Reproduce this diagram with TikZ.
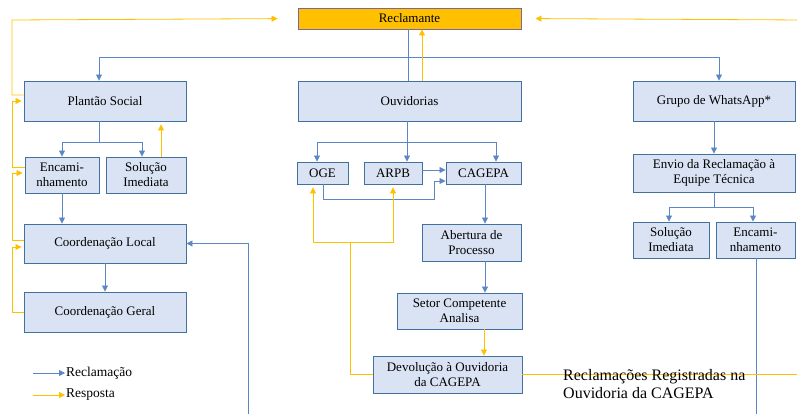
\documentclass[tikz,border=0pt]{standalone}
\usepackage{fontspec}
\setmainfont{Liberation Serif}
\usetikzlibrary{arrows.meta,calc}

\definecolor{boxfill}{HTML}{DAE3F3}
\definecolor{boxline}{HTML}{41719C}
\definecolor{blu}{HTML}{5B87C5}
\definecolor{ylw}{HTML}{FFC000}
\definecolor{recline}{HTML}{8064A2}

\tikzset{
  flowbox/.style={draw=boxline, fill=boxfill, line width=0.9pt, align=center, inner sep=1pt,
    font=\fontsize{13}{15}\selectfont},
  recl/.style={draw=blu, line width=0.8pt},
  resp/.style={draw=ylw, line width=0.8pt},
  tip/.style={-{Triangle[length=6pt,width=6pt]}},
}

\begin{document}
\begin{tikzpicture}[x=1pt,y=1pt,yscale=-1,xscale=1]
\useasboundingbox (0,0) rectangle (797,414);

%Shape: Rectangle [Reclamante]
    \node [flowbox, fill=ylw, draw=recline, minimum width=223, minimum height=21] (rec) at (409.5,18.5) {Reclamante};
%Shape: Rectangle [top row]
    \node [flowbox, minimum width=162, minimum height=40] (ps) at (105,101) {Plantão Social};
    \node [flowbox, minimum width=223, minimum height=40] (ouv) at (409.5,101) {Ouvidorias};
    \node [flowbox, minimum width=162, minimum height=40] (wa) at (714,101) {Grupo de WhatsApp*};
%Shape: Rectangle [left column]
    \node [flowbox, minimum width=74, minimum height=36] (enc1) at (62,175) {Encami-\\nhamento};
    \node [flowbox, minimum width=80, minimum height=36] (sol1) at (146,175) {Solução\\Imediata};
    \node [flowbox, minimum width=162, minimum height=39] (cl) at (105,243.5) {Coordenação Local};
    \node [flowbox, minimum width=162, minimum height=40] (cg) at (105,312) {Coordenação Geral};
%Shape: Rectangle [middle column]
    \node [flowbox, minimum width=51, minimum height=22] (oge) at (322.5,173) {OGE};
    \node [flowbox, minimum width=58, minimum height=22] (arpb) at (393,173) {ARPB};
    \node [flowbox, minimum width=75, minimum height=22] (cag) at (483.5,173) {CAGEPA};
    \node [flowbox, minimum width=99, minimum height=37] (ab) at (471.5,242.5) {Abertura de\\Processo};
    \node [flowbox, minimum width=125, minimum height=36] (setor) at (459.5,311) {Setor Competente\\Analisa};
    \node [flowbox, minimum width=149, minimum height=37] (dev) at (447.5,374.5) {Devolução à Ouvidoria\\da CAGEPA};
%Shape: Rectangle [right column]
    \node [flowbox, minimum width=162, minimum height=38] (envio) at (714,173) {Envio da Reclamação à\\Equipe Técnica};
    \node [flowbox, minimum width=76, minimum height=36] (sol2) at (671,240) {Solução\\Imediata};
    \node [flowbox, minimum width=79, minimum height=36] (enc2) at (755.5,240) {Encami-\\nhamento};

%Coordinates for bends
    \coordinate (topBus) at (408,57);
    \coordinate (psBus) at (99,142);
    \coordinate (ouvBus) at (407,142);
    \coordinate (waBus) at (714,207);
    \coordinate (ogeA) at (323,199);
    \coordinate (ogeB) at (434,181);
    \coordinate (devBus) at (350,242);
    \coordinate (rail) at (12,20);
    \coordinate (lowBend) at (248,422);
    \coordinate (farRight) at (803,20);
%Coordinates for shifted ends
    \coordinate (solUp) at ($(sol1.north)+(15,0)$);
    \coordinate (arpbOut) at ($(arpb.east)+(0,-3)$);
    \coordinate (cagDown) at ($(cag.south)+(1.5,0)$);
    \coordinate (setorDown) at ($(setor.south)+(24.5,0)$);
    \coordinate (clIn) at ($(cl.west)+(0,3.5)$);
    \coordinate (clOut) at ($(cl.west)+(0,-3.5)$);
    \coordinate (encIn) at ($(enc1.west)+(0,-2)$);
    \coordinate (encOut) at ($(enc1.west)+(0,-8)$);
    \coordinate (psOut) at ($(ps.west)+(0,-6)$);

%Straight Lines [Reclamacao]
    \draw [recl] (rec.south -| topBus) -- (ouv.north -| topBus);
    \draw [recl,tip] (topBus) -| ($(ps.north)+(-6,0)$);
    \draw [recl,tip] (topBus) -| ($(wa.north)+(5,0)$);
    \draw [recl] (ps.south -| psBus) -- (psBus);
    \draw [recl,tip] (psBus) -| (enc1.north);
    \draw [recl,tip] (psBus) -| ($(sol1.north)+(-4,0)$);
    \draw [recl,tip] (enc1.south) -- (enc1.south |- cl.north);
    \draw [recl,tip] (cl.south) -- (cg.north);
    \draw [recl] (ouv.south -| ouvBus) -- (ouvBus);
    \draw [recl,tip] (ouvBus) -| ($(oge.north)+(-5.5,0)$);
    \draw [recl,tip] (ouvBus) -- (ouvBus |- arpb.north);
    \draw [recl,tip] (ouvBus) -| ($(cag.north)+(12.5,0)$);
    \draw [recl,tip] (arpbOut) -- (arpbOut -| cag.west);
    \draw [recl,tip] (oge.south -| ogeA) -- (ogeA) -| (ogeB) -- (ogeB -| cag.west);
    \draw [recl,tip] (cagDown) -- (cagDown |- ab.north);
    \draw [recl,tip] (cagDown |- ab.south) -- (cagDown |- setor.north);
    \draw [recl,tip] (wa.south) -- (envio.north);
    \draw [recl] (envio.south) -- (waBus);
    \draw [recl,tip] (waBus) -| ($(sol2.north)+(-2,0)$);
    \draw [recl,tip] (waBus) -| ($(enc2.north)+(-2.5,0)$);
    \draw [recl,tip] ($(enc2.south)+(0.5,0)$) |- (lowBend) |- (cl.east);

%Straight Lines [Resposta]
    \draw [resp,tip] ($(ouv.north)+(12.5,0)$) -- ($(rec.south)+(12.5,0)$);
    \draw [resp,tip,shorten >=3pt] (solUp) -- (solUp |- ps.south);
    \draw [resp,tip] (setorDown) -- (setorDown |- dev.north);
    \draw [resp] (dev.west) -| (devBus);
    \draw [resp,tip,shorten >=3pt] (devBus) -| ($(oge.south)+(-9.5,0)$);
    \draw [resp,tip,shorten >=3pt] (devBus) -| (arpb.south);
    \draw [resp,tip,shorten >=14pt] (dev.east) -| (farRight) -- (rec.east);
    \draw [resp,tip,shorten >=2pt] (cg.west) -- (cg.west -| rail) |- (clIn);
    \draw [resp,tip,shorten >=2pt] (clOut) -- (clOut -| rail) |- (encIn);
    \draw [resp,tip,shorten >=2pt] (encOut) -- (encOut -| rail) |- (ps.west);
    \draw [resp,tip,shorten >=20pt] (psOut) -- (psOut -| rail) -- (rail) -- (rec.west);

% Text Node [legend]
    \node [anchor=west, inner sep=1pt, font=\fontsize{13.5}{15}\selectfont] (lgRec) at (65,373) {Reclamação};
    \node [anchor=west, inner sep=1pt, font=\fontsize{13.5}{15}\selectfont] (lgResp) at (65,395) {Resposta};
    \draw [recl,tip] ($(lgRec.west)+(-32,0)$) -- (lgRec.west);
    \draw [resp,tip] ($(lgResp.west)+(-32,0)$) -- (lgResp.west);
% Text Node
    \node [anchor=north west, inner sep=0pt, align=left, font=\fontsize{16}{17.5}\selectfont] (cap) at (563,369.5) {Reclamações Registradas na\\Ouvidoria da CAGEPA};

\end{tikzpicture}
\end{document}
